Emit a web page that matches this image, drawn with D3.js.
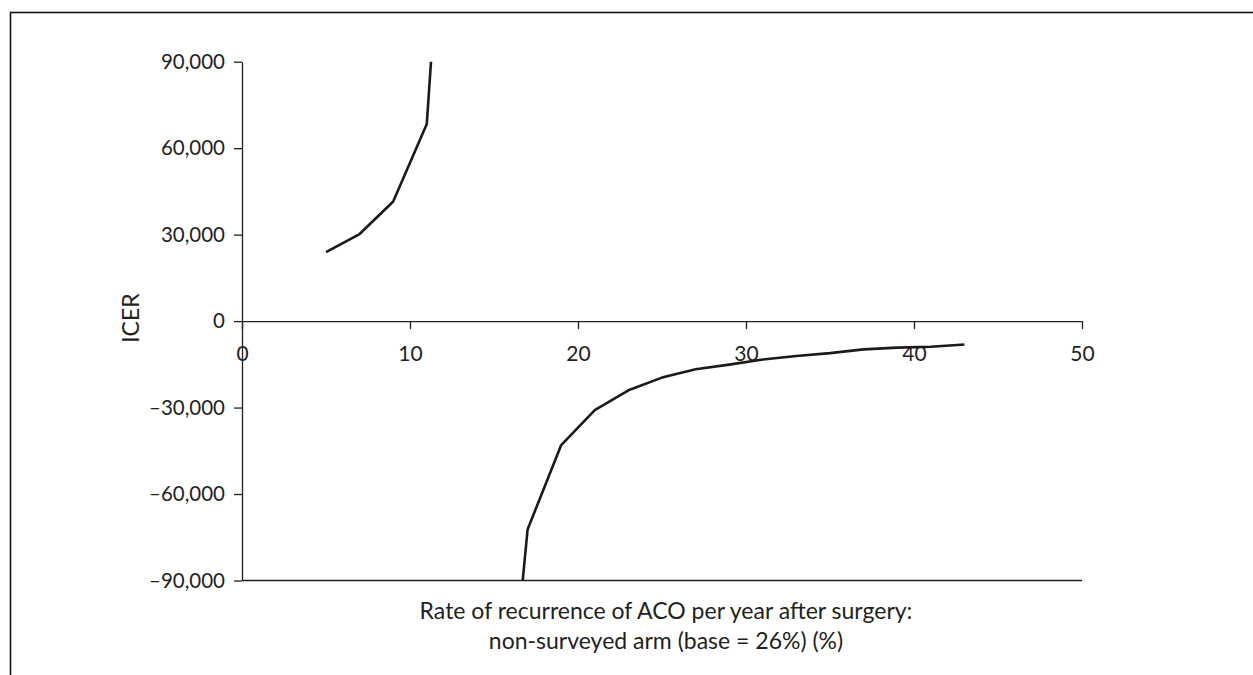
<!DOCTYPE html>
<html>
<head>
<meta charset="utf-8">
<script src="https://cdn.jsdelivr.net/npm/d3@7"></script>
<style>
  html, body { margin: 0; padding: 0; background: #fff; }
  svg { display: block; }
  text { font-family: Lato, "Open Sans", sans-serif; fill: #231f20; }
</style>
</head>
<body>
<svg id="chart" width="1253" height="675"></svg>
<script>
// Recurrence rate (%) and ICER for the two branches of the curve
const rateUpper = [5, 7, 9, 11, 13];
const icerUpper = [23900, 30200, 41500, 68400, 241000];
const rateLower = [15, 17, 19, 21, 23, 25, 27, 29, 31, 33, 35, 37, 39, 41, 43];
const icerLower = [-194000, -72300, -43000, -30900, -24000, -19600, -16700, -15100,
                   -13300, -12100, -11100, -9800, -9200, -8900, -8100];
const xTicks = [0, 10, 20, 30, 40, 50];
const yTicks = [-90000, -60000, -30000, 0, 30000, 60000, 90000];
const xTitleLines = ["Rate of recurrence of ACO per year after surgery:",
                     "non-surveyed arm (base = 26%) (%)"];
const yTitle = "ICER";

const svg = d3.select("#chart");
const ink = "#231f20";

// outer frame
svg.append("rect")
  .attr("x", 10.5).attr("y", 12.5)
  .attr("width", 1400).attr("height", 900)
  .attr("fill", "none").attr("stroke", "#111").attr("stroke-width", 1.6);

const x = d3.scaleLinear().domain([0, 50]).range([242, 1082]);
const y = d3.scaleLinear().domain([-90000, 90000]).range([580.5, 61.7]);

const fmt = d => (d < 0 ? "\u2013" : "") + d3.format(",")(Math.abs(d));

// bottom edge of the plot area
svg.append("line")
  .attr("x1", x(0)).attr("x2", x(50))
  .attr("y1", y(-90000)).attr("y2", y(-90000))
  .attr("stroke", ink).attr("stroke-width", 1.3);

// vertical axis
const yAxis = svg.append("g")
  .attr("transform", `translate(${x(0)},0)`)
  .call(d3.axisLeft(y).tickValues(yTicks).tickFormat(fmt)
        .tickSize(8).tickSizeOuter(0).tickPadding(9));
yAxis.selectAll("text").attr("font-size", 20.5);

// horizontal axis through zero
const xAxis = svg.append("g")
  .attr("transform", `translate(0,${y(0)})`)
  .call(d3.axisBottom(x).tickValues(xTicks).tickFormat(d3.format("d"))
        .tickSize(8).tickSizeOuter(0).tickPadding(17));
xAxis.selectAll("text").attr("font-size", 21);

svg.selectAll(".domain, .tick line").attr("stroke", ink).attr("stroke-width", 1.3);
svg.selectAll(".tick text").attr("fill", ink);

// curves, clipped to the plot area
svg.append("clipPath").attr("id", "plotClip")
  .append("rect")
  .attr("x", x(0)).attr("y", y(90000))
  .attr("width", x(50) - x(0)).attr("height", y(-90000) - y(90000));

const line = d3.line().x(d => x(d[0])).y(d => y(d[1]));
const curves = [d3.zip(rateUpper, icerUpper), d3.zip(rateLower, icerLower)];
svg.append("g").attr("clip-path", "url(#plotClip)")
  .selectAll("path").data(curves).join("path")
  .attr("d", line)
  .attr("fill", "none")
  .attr("stroke", "#1a1a1a")
  .attr("stroke-width", 2.6)
  .attr("stroke-linejoin", "round");

// axis titles
svg.append("text")
  .attr("transform", `translate(139,${y(0) - 3}) rotate(-90)`)
  .attr("text-anchor", "middle")
  .attr("font-size", 23)
  .text(yTitle);

svg.selectAll(".xtitle").data(xTitleLines).join("text")
  .attr("class", "xtitle")
  .attr("x", 666)
  .attr("y", (d, i) => 619 + i * 30)
  .attr("text-anchor", "middle")
  .attr("font-size", 23)
  .text(d => d);
</script>
</body>
</html>
